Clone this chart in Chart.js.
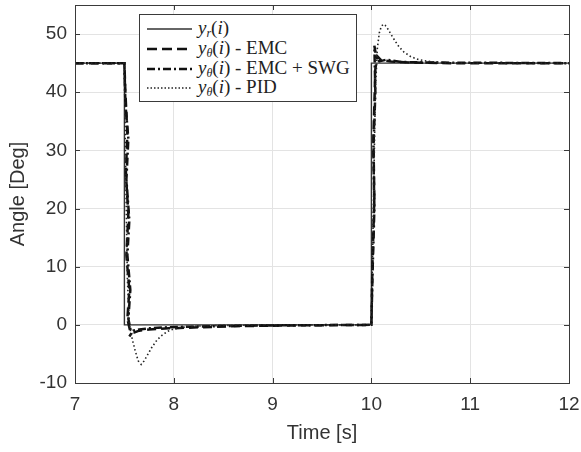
<!DOCTYPE html>
<html><head><meta charset="utf-8">
<script src="https://cdn.jsdelivr.net/npm/chart.js@4.4.1/dist/chart.umd.min.js"></script>
<style>
html,body{margin:0;padding:0;background:#fff;}
#wrap{position:relative;width:581px;height:452px;}
#legend{position:absolute;left:139px;top:14px;width:218px;height:88px;background:#fff;border:1px solid #3a3a3a;box-sizing:border-box;font-family:"Liberation Serif","DejaVu Serif",serif;font-size:19px;color:#222;}
#legend .row{position:absolute;left:7px;height:20px;display:flex;align-items:center;white-space:nowrap;}
#legend svg{margin-right:6px;}
#legend sub{font-size:12px;vertical-align:-3px;}
</style></head>
<body><div id="wrap"><canvas id="c" width="581" height="452"></canvas>
<div id="legend">
<div class="row" style="top:4px"><svg width="45" height="6"><line x1="0" y1="3" x2="45" y2="3" stroke="#333" stroke-width="1.3"/></svg><span><i>y</i><sub><i>r</i></sub>(<i>i</i>)</span></div>
<div class="row" style="top:24px"><svg width="45" height="6"><line x1="0" y1="3" x2="45" y2="3" stroke="#111" stroke-width="2.5" stroke-dasharray="10,5"/></svg><span><i>y</i><sub><i>θ</i></sub>(<i>i</i>) - EMC</span></div>
<div class="row" style="top:44px"><svg width="45" height="6"><line x1="0" y1="3" x2="45" y2="3" stroke="#111" stroke-width="2.5" stroke-dasharray="8,3,2,3"/></svg><span><i>y</i><sub><i>θ</i></sub>(<i>i</i>) - EMC + SWG</span></div>
<div class="row" style="top:63px"><svg width="45" height="6"><line x1="0" y1="3" x2="45" y2="3" stroke="#222" stroke-width="1.5" stroke-dasharray="1.5,2"/></svg><span><i>y</i><sub><i>θ</i></sub>(<i>i</i>) - PID</span></div>
</div></div>
<script>
const tRef = [7, 7.5, 7.5, 10.0, 10.0, 12];
const yRef = [45, 45, 0, 0, 45, 45];

const tEmc = [7, 7.5, 7.51, 7.53, 7.515, 7.54, 7.52, 7.55, 7.53, 7.56, 7.6, 7.65, 7.75, 7.95, 8.3, 8.7, 9.2, 10.0, 10.01, 10.03, 10.02, 10.04, 10.06, 10.1, 10.2, 10.4, 10.8, 12];
const yEmc = [45, 45, 40, 33, 26, 19, 12, 6, 1, -1.2, -1.3, -1, -0.8, -0.6, -0.4, -0.2, -0.1, 0, 10, 22, 32, 44, 46.2, 45.5, 45.3, 45.1, 45, 45];

const tSwg = [7, 7.5, 7.51, 7.54, 7.52, 7.55, 7.53, 7.56, 7.54, 7.57, 7.55, 7.59, 7.65, 7.75, 7.95, 8.5, 9.0, 10.0, 10.01, 10.03, 10.02, 10.04, 10.03, 10.05, 10.08, 10.15, 10.3, 10.6, 12];
const ySwg = [45, 45, 38, 32, 25, 18, 12, 6, 1, -1.5, -2, -1, -0.8, -0.6, -0.4, -0.2, -0.1, 0, 8, 20, 30, 40, 48, 46, 45.3, 45.6, 45.2, 45.1, 45];

const tPid = [7, 7.5, 7.51, 7.53, 7.55, 7.58, 7.61, 7.64, 7.67, 7.7, 7.74, 7.78, 7.83, 7.88, 7.94, 8.0, 8.1, 8.25, 8.5, 9.0, 10.0, 10.02, 10.04, 10.06, 10.08, 10.1, 10.12, 10.14, 10.17, 10.2, 10.24, 10.28, 10.33, 10.4, 10.48, 10.58, 10.7, 11, 12];
const yPid = [45, 45, 30, 8, 0, -2.5, -4.5, -6.2, -6.8, -6.2, -5, -3.8, -2.6, -1.8, -1.1, -0.7, -0.4, -0.2, -0.1, 0, 0, 20, 40, 47.5, 50.2, 51.3, 51.7, 51.5, 50.8, 49.9, 48.8, 47.8, 46.9, 46.1, 45.6, 45.3, 45.1, 45, 45];

const xTicks = [7, 8, 9, 10, 11, 12];
const yTicks = [-10, 0, 10, 20, 30, 40, 50];

const pts = (t, y) => t.map((v, i) => ({x: v, y: y[i]}));

const frame = {
  id: 'frame',
  afterDraw(chart) {
    const {ctx, chartArea: a, scales} = chart;
    ctx.save();
    ctx.strokeStyle = '#3a3a3a';
    ctx.lineWidth = 1;
    ctx.beginPath();
    xTicks.forEach(v => {
      const px = Math.round(scales.x.getPixelForValue(v)) + 0.5;
      ctx.moveTo(px, a.bottom); ctx.lineTo(px, a.bottom - 5);
      ctx.moveTo(px, a.top); ctx.lineTo(px, a.top + 5);
    });
    yTicks.forEach(v => {
      const py = Math.round(scales.y.getPixelForValue(v)) + 0.5;
      ctx.moveTo(a.left, py); ctx.lineTo(a.left + 5, py);
      ctx.moveTo(a.right, py); ctx.lineTo(a.right - 5, py);
    });
    ctx.stroke();
    ctx.strokeRect(Math.round(a.left) + 0.5, Math.round(a.top) + 0.5, Math.round(a.right - a.left), Math.round(a.bottom - a.top));
    ctx.restore();
  }
};

new Chart(document.getElementById('c'), {
  type: 'line',
  data: {
    datasets: [
      {label: 'PID', data: pts(tPid, yPid), borderColor: '#222', borderWidth: 1.6, borderDash: [1.5, 2.5], pointRadius: 0},
      {label: 'EMC + SWG', data: pts(tSwg, ySwg), borderColor: '#111', borderWidth: 2.5, borderDash: [8, 3, 2, 3], pointRadius: 0},
      {label: 'EMC', data: pts(tEmc, yEmc), borderColor: '#111', borderWidth: 2.5, borderDash: [9, 5], pointRadius: 0},
      {label: 'ref', data: pts(tRef, yRef), borderColor: '#333', borderWidth: 1.4, pointRadius: 0}
    ]
  },
  options: {
    responsive: false,
    animation: false,
    layout: {padding: {left: 0, right: 12, top: 5, bottom: 0}},
    plugins: {legend: {display: false}, tooltip: {enabled: false}},
    scales: {
      x: {
        type: 'linear', min: 7, max: 12,
        afterBuildTicks: s => { s.ticks = xTicks.map(v => ({value: v})); },
        afterFit: s => { s.height = 69; s.paddingLeft = 0; s.paddingRight = 0; },
        grid: {color: '#e3e3e3', drawTicks: false},
        border: {display: false},
        ticks: {padding: 10, color: '#333', maxRotation: 0, font: {family: 'Liberation Sans, Arial', size: 19}},
        title: {display: true, text: 'Time [s]', color: '#333', font: {family: 'Liberation Sans, Arial', size: 20}, padding: {top: 0, bottom: 7}}
      },
      y: {
        type: 'linear', min: -10, max: 55,
        afterBuildTicks: s => { s.ticks = yTicks.map(v => ({value: v})); },
        afterFit: s => { s.width = 75; s.paddingTop = 0; s.paddingBottom = 0; },
        grid: {color: '#e3e3e3', drawTicks: false},
        border: {display: false},
        ticks: {padding: 8, color: '#333', font: {family: 'Liberation Sans, Arial', size: 19}},
        title: {display: true, text: 'Angle [Deg]', color: '#333', font: {family: 'Liberation Sans, Arial', size: 20}, padding: {top: 6, bottom: 0}}
      }
    }
  },
  plugins: [frame]
});
</script></body></html>
